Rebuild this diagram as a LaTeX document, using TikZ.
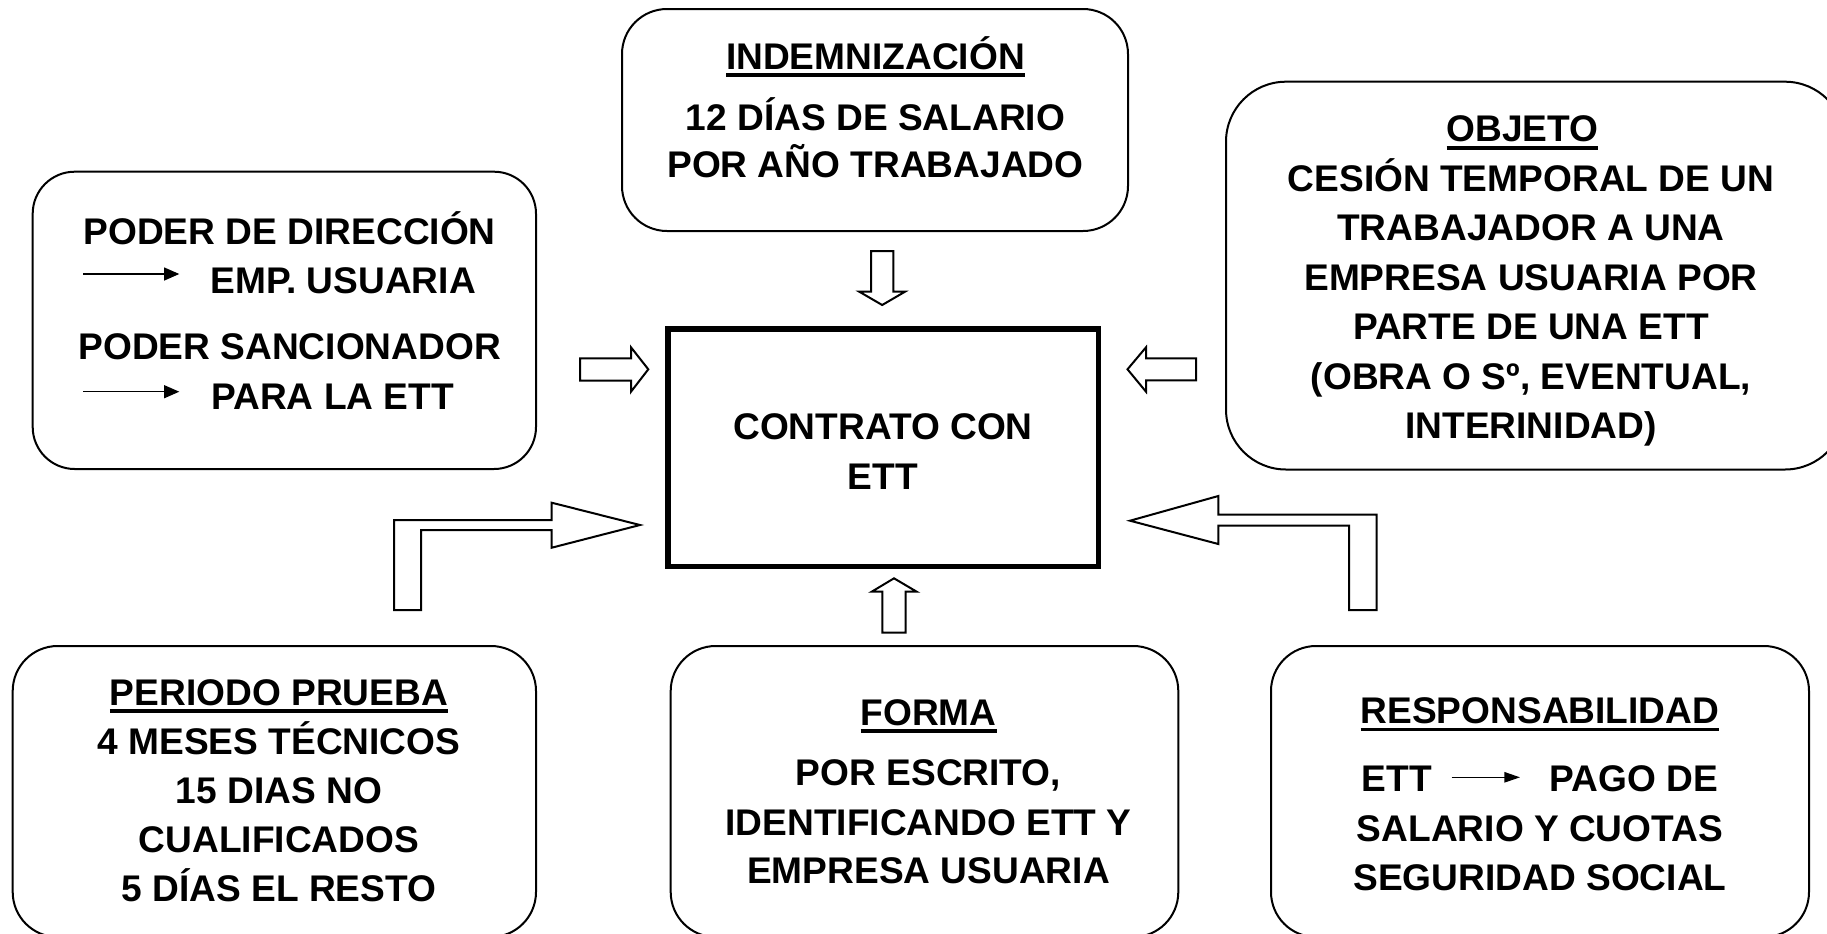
\documentclass[tikz,border=0pt]{standalone}
\usepackage{fontspec}
\setmainfont{Liberation Sans}
\usetikzlibrary{arrows.meta,fit}
\newcommand{\ulx}[1]{\setbox0=\hbox{#1}\rlap{\rule[-3.9pt]{\wd0}{1.7pt}}\box0}
\begin{document}
\begin{tikzpicture}[x=0.5pt,y=-0.5pt,
  rbox/.style={draw, line width=1pt, inner sep=0pt, outer sep=0pt, rounded corners=22.5pt},
  mainbox/.style={draw, line width=2.75pt, inner sep=0pt, outer sep=0pt},
  txt/.style={inner sep=0pt, outer sep=0pt, anchor=base, font=\fontsize{18.55pt}{24.5pt}\selectfont\bfseries},
  blockarrow/.style={draw, line width=1pt, fill=white, line join=miter},
  longarrow/.style={draw, line width=0.65pt, -{Triangle[length=7.6pt,width=6.5pt]}},
  shortarrow/.style={draw, line width=0.65pt, -{Triangle[length=7.8pt,width=5.2pt]}}]
\path[use as bounding box, fill=white] (0,0) rectangle (1827,933);
\clip (0,0) rectangle (1827,933);

% boxes
\node[rbox, fit={(622,9) (1128,231)}] (indem) {};
\node[rbox, rounded corners=21pt, fit={(32.7,171.7) (536,469)}] (poder) {};
\node[rbox, rounded corners=30pt, fit={(1226,81.7) (1845,469.5)}] (objeto) {};
\node[mainbox, fit={(668,329) (1098.5,566.3)}] (contrato) {};
\node[rbox, fit={(12.7,646) (536,937)}] (periodo) {};
\node[rbox, fit={(670.7,646) (1178.3,937)}] (forma) {};
\node[rbox, fit={(1271,646) (1809,937)}] (resp) {};

% texts
\node[txt] (tindem) at (875.5,69) {\begin{tabular}[t]{@{}c@{}}\ulx{INDEMNIZACIÓN}\\[6pt] 12 DÍAS DE SALARIO\\[-1pt] POR AÑO TRABAJADO\end{tabular}};
\node[txt] (tcontrato) at (883,439.3) {\begin{tabular}[t]{@{}c@{}}CONTRATO CON\\[0.5pt] ETT\end{tabular}};
\node[txt] (tpoder) at (289.7,244) {\begin{tabular}[t]{@{}c@{}}PODER DE DIRECCIÓN\\ \kern62.5pt EMP. USUARIA\kern8.9pt\\[8.8pt] PODER SANCIONADOR\\[0.5pt] \kern63.35pt PARA LA ETT\kern20.4pt\end{tabular}};
\node[txt, font=\fontsize{18.55pt}{24.75pt}\selectfont\bfseries] (tobjeto) at (1531,141.7) {\begin{tabular}[t]{@{}c@{}}\ulx{OBJETO}\kern8.5pt\\ CESIÓN TEMPORAL DE UN\\ TRABAJADOR A UNA\\ EMPRESA USUARIA POR\\ PARTE DE UNA ETT\\ (OBRA O Sº, EVENTUAL,\\ INTERINIDAD)\end{tabular}};
\node[txt, font=\fontsize{18.55pt}{24.6pt}\selectfont\bfseries] (tperiodo) at (279,705) {\begin{tabular}[t]{@{}c@{}}\ulx{PERIODO PRUEBA}\\ 4 MESES TÉCNICOS\\ 15 DIAS NO\\ CUALIFICADOS\\ 5 DÍAS EL RESTO\end{tabular}};
\node[txt] (tforma) at (928.5,725) {\begin{tabular}[t]{@{}c@{}}\ulx{FORMA}\\[5.5pt] POR ESCRITO,\\[0.5pt] IDENTIFICANDO ETT Y\\[-0.35pt] EMPRESA USUARIA\end{tabular}};
\node[txt] (tresp) at (1540,723.3) {\begin{tabular}[t]{@{}c@{}}\ulx{RESPONSABILIDAD}\\[9.7pt] ETT\kern58.85pt PAGO DE\\[0.5pt] SALARIO Y CUOTAS\\[-0.35pt] SEGURIDAD SOCIAL\end{tabular}};

% small arrows inside the text
\coordinate (pa1) at (83.3,274);   \coordinate (pb1) at (179.3,274);
\coordinate (pa2) at (83.3,391.7); \coordinate (pb2) at (179.3,391.7);
\coordinate (ra1) at (1451.7,777.3); \coordinate (rb1) at (1520,777.3);
\draw[longarrow] (pa1) -- (pb1);
\draw[longarrow] (pa2) -- (pb2);
\draw[shortarrow] (ra1) -- (rb1);

% block arrows
\draw[blockarrow] (580,358.3) -- (631,358.3) -- (631,347.3) -- (648.3,369.3) -- (631,391.7) -- (631,380.7) -- (580,380.7) -- cycle;
\draw[blockarrow] (1196,358.3) -- (1146,358.3) -- (1146,347.3) -- (1127.5,369.3) -- (1146,391.7) -- (1146,380.3) -- (1196,380.3) -- cycle;
\draw[blockarrow] (871,251) -- (893.3,251) -- (893.3,291.7) -- (905,291.7) -- (882.2,305) -- (859.3,291.7) -- (871,291.7) -- cycle;
\draw[blockarrow] (882.3,632.7) -- (905.7,632.7) -- (905.7,591.7) -- (916.7,591.7) -- (894,578.3) -- (871.7,591.7) -- (882.3,591.7) -- cycle;
\draw[blockarrow] (394,610) -- (394,520) -- (551.7,520) -- (551.7,502.7) -- (640,525) -- (551.7,547.7) -- (551.7,530) -- (421,530) -- (421,610) -- cycle;
\draw[blockarrow] (1376.7,610) -- (1376.7,514.7) -- (1218.3,514.7) -- (1218.3,496) -- (1130,520.7) -- (1218.3,544) -- (1218.3,525.7) -- (1349,525.7) -- (1349,610) -- cycle;
\end{tikzpicture}
\end{document}
